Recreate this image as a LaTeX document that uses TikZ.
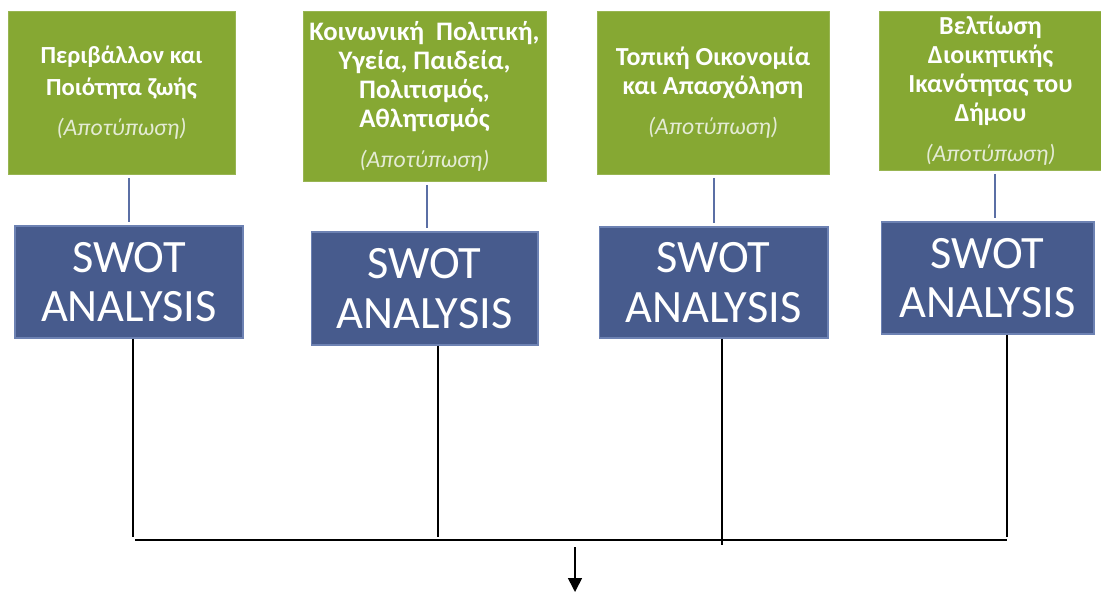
\documentclass[tikz,border=0pt]{standalone}
\usepackage{fontspec}
\setmainfont{Carlito}
\usetikzlibrary{arrows.meta}
\definecolor{topicgreen}{HTML}{86A833}
\definecolor{swotblue}{HTML}{475B8D}
\definecolor{swotedge}{HTML}{6D82B3}
\definecolor{linkblue}{HTML}{5B6FA5}
\definecolor{notegray}{HTML}{E4EBD4}
\tikzset{topic/.style={rectangle,fill=topicgreen,draw=topicgreen!85!white,inner sep=0pt,align=center,text=white,font=\fontsize{14.8}{16.6}\selectfont\bfseries},
  swot/.style={rectangle,fill=swotblue,draw=swotedge,line width=0.6pt,inner sep=0pt,align=center,text=white,font=\fontsize{26.4}{28.3}\selectfont},
  link/.style={draw=linkblue,line width=1.3pt,shorten <=0.07cm,shorten >=0.07cm},
  bus/.style={draw=black,line width=0.9pt},}
\newcommand{\apot}{\\[6pt]{\mdseries\itshape\fontsize{13.5}{15}\selectfont\color{notegray}(Αποτύπωση)}}

\begin{document}
\begin{tikzpicture}[x=0.02cm,y=-0.02cm]
    \useasboundingbox (0,0) rectangle (1101,592);
    % topics
    \node[topic,minimum width=4.54cm,minimum height=3.26cm,font=\fontsize{14}{16.6}\selectfont\bfseries] (g1) at (121.5,92.5) {Περιβάλλον και\\[2pt]Ποιότητα ζωής\apot};
    \node[topic,minimum width=4.86cm,minimum height=3.40cm,font=\fontsize{15.2}{16.6}\selectfont\bfseries] (g2) at (424.5,96) {Κοινωνική\ \ Πολιτική,\\Υγεία, Παιδεία,\\Πολιτισμός,\\Αθλητισμός\apot};
    \node[topic,minimum width=4.64cm,minimum height=3.26cm] (g3) at (713,92.5) {Τοπική Οικονομία\\και Απασχόληση\apot};
    \node[topic,minimum width=4.46cm,minimum height=3.18cm] (g4) at (990.5,90.5) {Βελτίωση\\Διοικητικής\\Ικανότητας του\\Δήμου\apot};

    % swot boxes
    \node[swot,minimum width=4.56cm,minimum height=2.24cm] (s1) at (129,282) {SWOT\\ANALYSIS};
    \node[swot,minimum width=4.54cm,minimum height=2.26cm] (s2) at (424.5,288.5) {SWOT\\ANALYSIS};
    \node[swot,minimum width=4.58cm,minimum height=2.22cm] (s3) at (713.5,282.5) {SWOT\\ANALYSIS};
    \node[swot,minimum width=4.26cm,minimum height=2.24cm] (s4) at (987.5,278) {SWOT\\ANALYSIS};

    \draw[link] (g1.south -| 129,0) -- (s1.north);
    \draw[link] (g2.south -| 427,0) -- (s2.north -| 427,0);
    \draw[link] (g3.south -| 714,0) -- (s3.north -| 714,0);
    \draw[link] (g4.south -| 995,0) -- (s4.north -| 995,0);

    % bus
    \coordinate (c1) at (133,537);
    \coordinate (c2) at (438,537);
    \coordinate (c3) at (722,545);
    \coordinate (c4) at (1007,537);
    \coordinate (busl) at (135,540);
    \coordinate (busr) at (1007,540);
    \draw[bus] (s1.south -| c1) -- (c1);
    \draw[bus] (s2.south -| c2) -- (c2);
    \draw[bus] (s3.south -| c3) -- (c3);
    \draw[bus] (s4.south -| c4) -- (c4);
    \draw[bus,line width=1.1pt] (busl) -- (busr);

    \coordinate (arrowtop) at (575,547);
    \coordinate (arrowtip) at (575,592);
    \draw[bus,-{Triangle[length=0.28cm,width=0.28cm]}] (arrowtop) -- (arrowtip);
\end{tikzpicture}
\end{document}
